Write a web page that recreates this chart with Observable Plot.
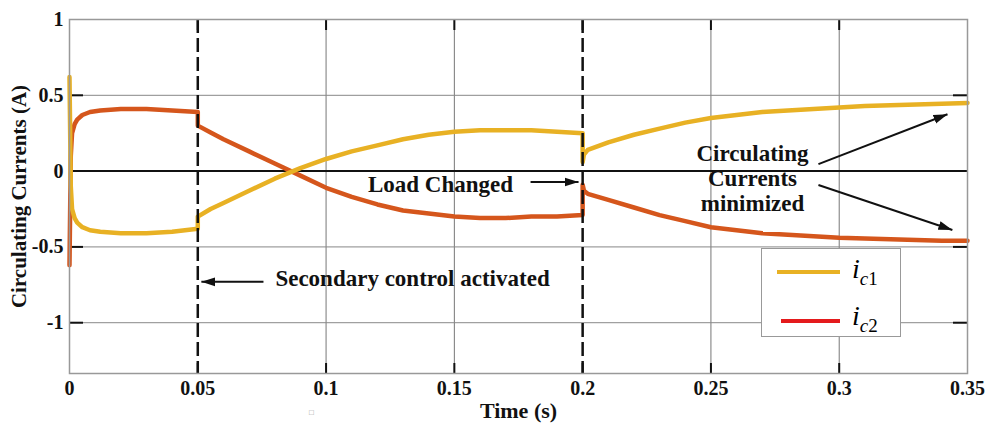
<!DOCTYPE html>
<html>
<head>
<meta charset="utf-8">
<script src="https://cdn.jsdelivr.net/npm/d3@7"></script>
<script src="https://cdn.jsdelivr.net/npm/@observablehq/plot@0.6"></script>
<style>
  html, body { margin: 0; padding: 0; background: #fff; }
  #wrap { position: relative; width: 989px; height: 424px; }
  #legend { position: absolute; left: 761px; top: 248px; width: 140px; height: 89px;
            border: 1px solid #999; background: #fff; box-sizing: border-box; }
  #legend svg { overflow: visible; display: block; }
</style>
</head>
<body>
<div id="wrap"></div>
<script>
// Time axis (s) and the two circulating currents (A)
const time = [0, 0.0005, 0.001, 0.002, 0.003, 0.005, 0.008, 0.012, 0.02, 0.03, 0.04, 0.05,
  0.05, 0.055, 0.06, 0.07, 0.08, 0.09, 0.1, 0.11, 0.12, 0.13, 0.14, 0.15, 0.16, 0.17, 0.18, 0.19, 0.2,
  0.2, 0.2005, 0.202, 0.21, 0.22, 0.23, 0.24, 0.25, 0.26, 0.27, 0.28, 0.29, 0.3, 0.31, 0.32, 0.33, 0.34, 0.35];
const ic1 = [0.62, -0.1, -0.25, -0.31, -0.34, -0.37, -0.39, -0.40, -0.41, -0.41, -0.40, -0.38,
  -0.30, -0.25, -0.21, -0.13, -0.05, 0.02, 0.08, 0.13, 0.17, 0.21, 0.24, 0.26, 0.27, 0.27, 0.27, 0.26, 0.25,
  0.06, 0.11, 0.14, 0.19, 0.24, 0.28, 0.32, 0.35, 0.37, 0.39, 0.40, 0.41, 0.42, 0.43, 0.435, 0.44, 0.445, 0.45];
const ic2 = [-0.62, 0.1, 0.25, 0.31, 0.34, 0.37, 0.39, 0.40, 0.41, 0.41, 0.40, 0.39,
  0.30, 0.255, 0.21, 0.13, 0.05, -0.03, -0.11, -0.17, -0.22, -0.26, -0.28, -0.30, -0.31, -0.31, -0.30, -0.30, -0.29,
  -0.09, -0.13, -0.15, -0.19, -0.24, -0.29, -0.33, -0.37, -0.39, -0.41, -0.42, -0.43, -0.44, -0.445, -0.45, -0.455, -0.46, -0.46];

// Axis ticks and event times
const xTicks = [0, 0.05, 0.1, 0.15, 0.2, 0.25, 0.3, 0.35];
const yTicks = [-1, -0.5, 0, 0.5, 1];
const events = [0.05, 0.2];

const seriesNames = ["i", "i"];
const seriesSubs = ["c", "c"];
const seriesIdx = ["1", "2"];
const colorIc1 = "#E8B124";
const colorIc2 = "#D5561C";
const legendIc2 = "#E41A1C";

const rows = time.map((t, i) => ({t, ic1: ic1[i], ic2: ic2[i]}));

const W = 989, H = 424, mL = 69, mR = 22, mT = 19, mB = 51;
const plotW = W - mL - mR, plotH = H - mT - mB;
const inner = xTicks.filter(d => d > 0 && d < 0.35);
const yInner = yTicks.filter(d => d !== 0 && d !== 1);
const serif = "'Liberation Serif', 'Times New Roman', serif";

const chart = Plot.plot({
  width: W, height: H,
  marginLeft: mL, marginRight: mR, marginTop: mT, marginBottom: mB,
  x: {domain: [0, 0.35]},
  y: {domain: [-1.335, 1]},
  style: {fontFamily: serif, fontWeight: "bold", background: "#fff", color: "#111"},
  marks: [
    Plot.gridX(inner.filter(d => !events.includes(d)), {stroke: "#777", strokeOpacity: 1, strokeWidth: 1}),
    Plot.gridY(yInner, {stroke: "#888", strokeOpacity: 1, strokeWidth: 1}),
    Plot.ruleY([0], {stroke: "#111", strokeWidth: 2}),
    // inward tick marks on all four sides
    Plot.tickX(inner, {x: d => d, stroke: "#111", strokeWidth: 2, insetTop: plotH - 10}),
    Plot.tickX(inner, {x: d => d, stroke: "#111", strokeWidth: 2, insetBottom: plotH - 11}),
    Plot.tickY(yInner, {y: d => d, stroke: "#111", strokeWidth: 2, insetRight: plotW - 14}),
    Plot.tickY(yInner, {y: d => d, stroke: "#111", strokeWidth: 2, insetLeft: plotW - 14}),
    Plot.line(rows, {x: "t", y: "ic2", stroke: colorIc2, strokeWidth: 4.5}),
    Plot.line(rows, {x: "t", y: "ic1", stroke: colorIc1, strokeWidth: 4.5}),
    Plot.ruleX(events, {stroke: "#111", strokeWidth: 2.5, strokeDasharray: "14,5"}),
    Plot.frame({stroke: "#999", strokeWidth: 1.5}),
    Plot.axisX(xTicks, {tickSize: 0, tickPadding: 7, fontSize: 20, tickFormat: d => String(d), label: null}),
    Plot.axisY(yTicks, {tickSize: 0, tickPadding: 6, fontSize: 20, tickFormat: d => String(d), label: null}),
    Plot.text(["Circulating Currents (A)"], {frameAnchor: "left", textAnchor: "middle", rotate: -90, dx: -50, fontSize: 21}),
    Plot.text(["Time (s)"], {frameAnchor: "bottom", textAnchor: "middle", dy: 44, fontSize: 22}),
    Plot.text(["\u25A1"], {x: 0.0943, y: -1.59, fontSize: 8, fill: "#999", fontWeight: "normal"}),
    // annotations
    Plot.text(["Load Changed"], {x: 0.1446, y: -0.086, fontSize: 23}),
    Plot.text(["Secondary control activated"], {x: 0.1337, y: -0.71, fontSize: 23}),
    Plot.text(["Circulating\nCurrents\nminimized"], {x: 0.2662, y: -0.046, fontSize: 23, lineHeight: 1.09}),
    Plot.link([
      {x1: 0.1797, y1: -0.072, x2: 0.1984, y2: -0.072},
      {x1: 0.0756, y1: -0.73, x2: 0.0514, y2: -0.73},
      {x1: 0.2919, y1: 0.046, x2: 0.3422, y2: 0.375},
      {x1: 0.2919, y1: -0.092, x2: 0.3441, y2: -0.388}
    ], {x1: "x1", y1: "y1", x2: "x2", y2: "y2", stroke: "#111", strokeWidth: 2})
  ]
});

// Filled arrowheads for the callouts
const sel = d3.select(chart);
sel.append("defs").append("marker")
  .attr("id", "callout-head").attr("viewBox", "0 -5 14 10").attr("refX", 14).attr("refY", 0)
  .attr("markerUnits", "userSpaceOnUse").attr("markerWidth", 14).attr("markerHeight", 10)
  .attr("orient", "auto")
  .append("path").attr("d", "M0,-4.5L14,0L0,4.5Z").attr("fill", "#111");
sel.selectAll('g[aria-label="link"] path').attr("marker-end", "url(#callout-head)");

const wrap = document.getElementById("wrap");
wrap.appendChild(chart);

// Legend box
const legend = document.createElement("div");
legend.id = "legend";
wrap.appendChild(legend);
const lsvg = d3.select(legend).append("svg").attr("width", 138).attr("height", 87)
  .style("font-family", serif);
const swatches = [
  {color: colorIc1, x1: 15, y: 23, base: 29},
  {color: legendIc2, x1: 19, y: 72, base: 76}
];
swatches.forEach((s, i) => {
  lsvg.append("line").attr("x1", s.x1).attr("x2", 78).attr("y1", s.y).attr("y2", s.y)
    .attr("stroke", s.color).attr("stroke-width", 4);
  const tx = lsvg.append("text").attr("x", 90).attr("y", s.base).attr("font-size", 28);
  tx.append("tspan").attr("font-style", "italic").text(seriesNames[i]);
  tx.append("tspan").attr("dy", 7).attr("font-size", 19).attr("font-style", "italic").text(seriesSubs[i]);
  tx.append("tspan").attr("font-size", 19).text(seriesIdx[i]);
});
</script>
</body>
</html>
